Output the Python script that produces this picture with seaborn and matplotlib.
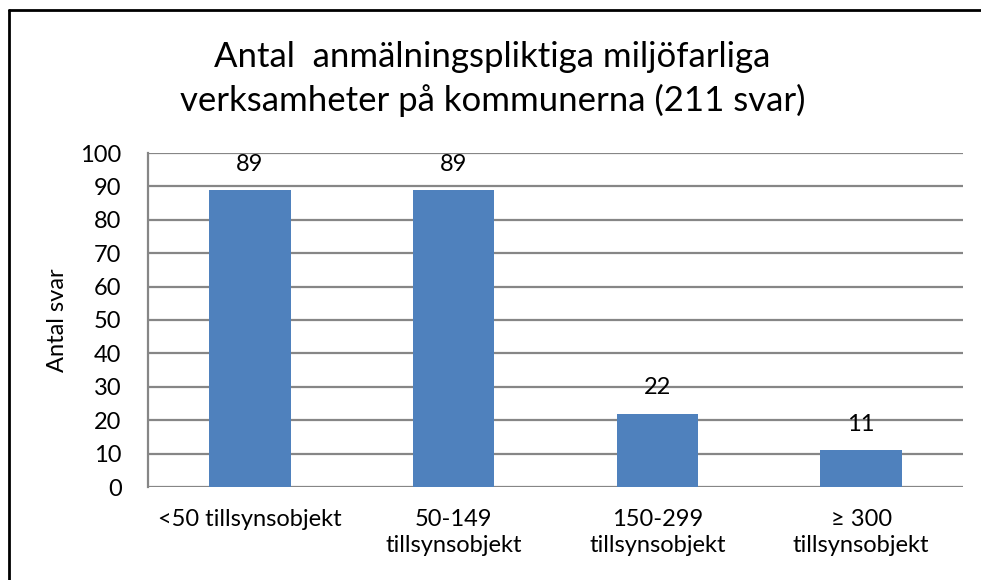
import matplotlib
matplotlib.use("Agg")
import matplotlib.pyplot as plt
import seaborn as sns
import pandas as pd
from matplotlib.lines import Line2D

categories = ["<50 tillsynsobjekt", "50-149\ntillsynsobjekt", "150-299\ntillsynsobjekt", "≥ 300\ntillsynsobjekt"]
values = [89, 89, 22, 11]
yticks = [0, 10, 20, 30, 40, 50, 60, 70, 80, 90, 100]

sns.set_theme(style="white")
plt.rcParams["font.family"] = ["Lato", "DejaVu Sans"]

df = pd.DataFrame({"kategori": categories, "antal": values})

fig = plt.figure(figsize=(9.81, 5.80), dpi=100)
ax = fig.add_axes([148 / 981, 1 - 487 / 580, (963 - 148) / 981, (487 - 153) / 580])

sns.barplot(data=df, x="kategori", y="antal", color="#4F81BD", saturation=1,
            width=0.4, linewidth=0, ax=ax, zorder=3)

ax.set_ylim(0, 100)
ax.set_xlim(-0.5, 3.5)
ax.set_yticks(yticks)
ax.set_yticklabels([str(t) for t in yticks], fontsize=17, color="black")
ax.tick_params(axis="x", labelsize=17, colors="black", length=0, pad=16)
ax.tick_params(axis="y", length=0, pad=19)
for lbl in ax.get_xticklabels():
    lbl.set_linespacing(1.3)
ax.set_xlabel("")
ax.set_ylabel("Antal svar", fontsize=17, color="black")
ax.yaxis.set_label_coords((68 - 148) / 815, 0.5)

ax.yaxis.grid(True, color="#868686", linewidth=1.6, zorder=0)
ax.set_axisbelow(True)
for side in ["top", "right", "bottom"]:
    ax.spines[side].set_visible(False)
ax.spines["left"].set_color("#868686")
ax.spines["left"].set_linewidth(1.6)

for p, v in zip(ax.patches, values):
    ax.text(p.get_x() + p.get_width() / 2, v + 4.5, str(v), ha="center", va="bottom",
            fontsize=17, color="black")

fig.text(0.502, 1 - 79 / 580,
         "Antal  anmälningspliktiga miljöfarliga\nverksamheter på kommunerna (211 svar)",
         ha="center", va="center", fontsize=25, color="black", linespacing=1.4)

# outer chart frame (left and top edges)
fig.add_artist(Line2D([8.5 / 981, 8.5 / 981], [0, 1 - 9.5 / 580], transform=fig.transFigure,
                      color="black", linewidth=2))
fig.add_artist(Line2D([8.5 / 981, 1], [1 - 9.5 / 580, 1 - 9.5 / 580], transform=fig.transFigure,
                      color="black", linewidth=2))

fig.savefig("out.png", dpi=100, facecolor="white")
